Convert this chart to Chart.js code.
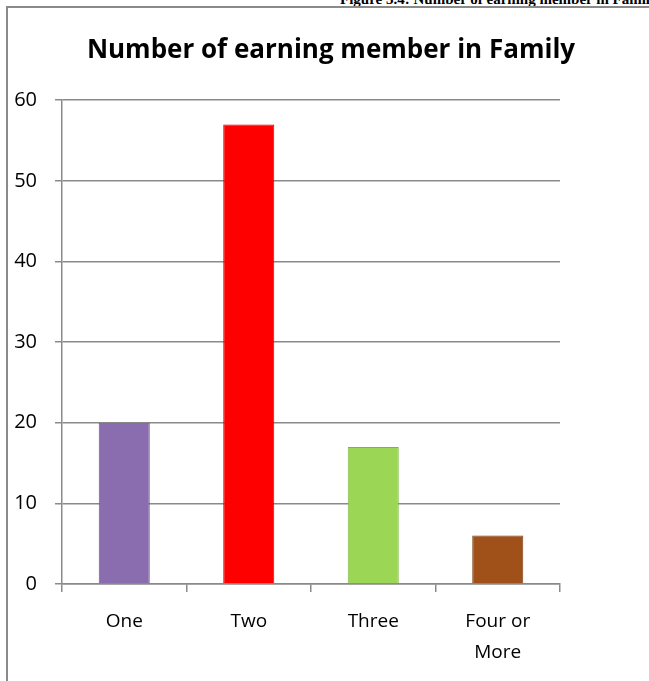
<!DOCTYPE html>
<html>
<head>
<meta charset="utf-8">
<script src="https://cdn.jsdelivr.net/npm/chart.js@4.4.1/dist/chart.umd.min.js"></script>
<style>
    html, body { margin: 0; padding: 0; background: #fff; overflow: hidden; }
    #page { position: relative; width: 649px; height: 681px; overflow: hidden; }
    #frame {
        position: absolute; left: 6px; top: 6px; width: 700px; height: 720px;
        border-left: 2px solid #8a8a8a; border-top: 2px solid #8a8a8a;
    }
    #caption {
        position: absolute; left: 340px; top: -9px; white-space: nowrap;
        font: bold 15px "Liberation Serif", "DejaVu Serif", serif; color: #000;
    }
    #wrap { position: absolute; left: 0; top: 0; width: 662px; height: 681px; }
</style>
</head>
<body>
<div id="page">
    <div id="caption">Figure 3.4: Number of earning member in Family</div>
    <div id="frame"></div>
    <div id="wrap"><canvas id="earnChart" width="662" height="681"></canvas></div>
</div>
<script>
// ---- Données ----
const categories = ['One', 'Two', 'Three', ['Four or', 'More']];
const members    = [20, 57, 17, 6];
const barColors  = ['#8a6dae', '#ff0000', '#9bd655', '#a0511a'];
const edgeColors = ['#6f5591', '#d40000', '#7fb53f', '#7e3d10'];
const yTicks     = { min: 0, max: 60, step: 10 };

const FONT = '"Open Sans", "Noto Sans", sans-serif';

// Dégradé horizontal : bords plus sombres (effet biseau)
function bevel(ctx) {
    const el = ctx.element;
    const i = ctx.dataIndex;
    if (!el || !el.width || !ctx.chart.chartArea) return barColors[i];
    const g = ctx.chart.ctx.createLinearGradient(el.x - el.width / 2, 0,
                                                 el.x + el.width / 2, 0);
    g.addColorStop(0, edgeColors[i]);
    g.addColorStop(0.12, barColors[i]);
    g.addColorStop(0.88, barColors[i]);
    g.addColorStop(1, edgeColors[i]);
    return g;
}

const ctx = document.getElementById('earnChart').getContext('2d');

new Chart(ctx, {
    type: 'bar',
    data: {
        labels: categories,
        datasets: [{
            data: members,
            backgroundColor: bevel,
            borderColor: edgeColors,
            borderWidth: 1,
            barPercentage: 0.41,
            categoryPercentage: 1
        }]
    },
    options: {
        responsive: false,
        animation: false,
        devicePixelRatio: 1,
        layout: { padding: 0 },
        plugins: {
            legend: { display: false },
            tooltip: { enabled: false },
            title: {
                display: true,
                text: 'Number of earning member in Family',
                color: '#000',
                font: { family: FONT, size: 26, weight: 'bold', lineHeight: 1.2 },
                padding: { top: 35, bottom: 34 }
            }
        },
        scales: {
            x: {
                offset: true,
                grid: {
                    offset: true,
                    drawOnChartArea: false,
                    color: '#8a8a8a',
                    lineWidth: 1.5,
                    tickLength: 8
                },
                border: { color: '#8a8a8a', width: 1.5 },
                ticks: {
                    color: '#000',
                    padding: 14,
                    maxRotation: 0,
                    autoSkip: false,
                    font: { family: FONT, size: 19, lineHeight: 1.65 }
                },
                afterFit: (scale) => { scale.height = 97; }
            },
            y: {
                min: yTicks.min,
                max: yTicks.max,
                grid: {
                    color: '#8a8a8a',
                    lineWidth: 1.5,
                    tickLength: 7
                },
                border: { color: '#8a8a8a', width: 1.5 },
                ticks: {
                    stepSize: yTicks.step,
                    color: '#000',
                    padding: 18,
                    font: { family: FONT, size: 20 }
                },
                afterFit: (scale) => { scale.width = 62; }
            },
            // axe fantôme à droite : réserve la marge blanche
            yRight: {
                position: 'right',
                min: yTicks.min,
                max: yTicks.max,
                grid: { display: false },
                border: { display: false },
                ticks: { display: false },
                afterFit: (scale) => { scale.width = 102; }
            }
        }
    }
});
</script>
</body>
</html>
